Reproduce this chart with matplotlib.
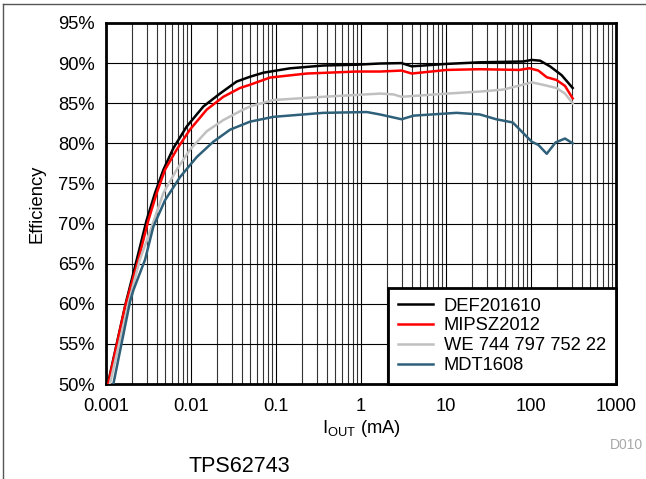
import matplotlib
matplotlib.use('Agg')
import matplotlib.pyplot as plt
from matplotlib.lines import Line2D
from matplotlib.ticker import FuncFormatter, FixedLocator, LogLocator, MultipleLocator, NullFormatter

plt.rcParams['font.family'] = ['Liberation Sans', 'DejaVu Sans']
plt.rcParams['mathtext.default'] = 'regular'

# load current (mA) vs efficiency (%)
def_i = [0.00105, 0.0017, 0.0023, 0.0030, 0.00377, 0.00473, 0.0062, 0.0089, 0.014, 0.0219, 0.0344,
         0.0494, 0.0708, 0.146, 0.36, 0.89, 1.67, 3.0, 3.95, 10.2, 25, 81, 102, 128, 167, 229, 309]
def_eff = [50.0, 60.0, 65.5, 70.4, 73.8, 76.7, 79.4, 82.1, 84.6, 86.2, 87.7,
           88.3, 88.8, 89.35, 89.7, 89.8, 89.95, 90.0, 89.6, 89.9, 90.1, 90.2, 90.4, 90.3, 89.6, 88.5, 86.9]

mip_i = [0.00106, 0.00167, 0.0024, 0.00315, 0.00395, 0.00494, 0.00677, 0.0097, 0.0153, 0.024, 0.0377,
         0.0494, 0.085, 0.23, 0.89, 1.67, 3.0, 3.95, 10.2, 25, 73, 96, 122, 153, 199, 251, 309]
mip_eff = [50.0, 59.6, 65.5, 70.4, 73.8, 76.7, 79.2, 81.7, 84.2, 85.8, 86.9,
           87.3, 88.2, 88.7, 88.95, 88.95, 89.07, 88.7, 89.15, 89.24, 89.15, 89.36, 89.07, 88.24, 87.9, 87.16, 85.6]

we_i = [0.00111, 0.00183, 0.0025, 0.00345, 0.00473, 0.00677, 0.0097, 0.0153, 0.024, 0.0377, 0.0494,
        0.093, 0.36, 1.67, 2.4, 3.0, 10.2, 25, 47, 73, 102, 138, 199, 251, 309]
we_eff = [50.0, 60.0, 65.5, 69.6, 73.8, 76.7, 79.2, 81.5, 82.9, 84.0, 84.6,
          85.4, 85.8, 86.2, 86.1, 85.8, 86.2, 86.45, 86.7, 87.2, 87.6, 87.3, 86.9, 86.2, 85.0]

mdt_i = [0.00122, 0.00192, 0.0021, 0.00288, 0.0036, 0.00494, 0.00743, 0.0117, 0.0183, 0.0288, 0.0494,
         0.093, 0.36, 1.17, 1.67, 3.0, 4.15, 13.3, 25, 39, 61, 102, 122, 153, 194, 251, 309]
mdt_eff = [50.0, 60.3, 61.7, 65.5, 69.6, 72.9, 75.8, 78.3, 80.2, 81.7, 82.7,
           83.3, 83.8, 83.9, 83.6, 83.0, 83.45, 83.8, 83.6, 83.0, 82.6, 80.2, 79.8, 78.7, 80.1, 80.6, 80.0]

x_ticks = [0.001, 0.01, 0.1, 1, 10, 100, 1000]
x_labels = ['0.001', '0.01', '0.1', '1', '10', '100', '1000']

series = [
    ('DEF201610', def_i, def_eff, 'black'),
    ('MIPSZ2012', mip_i, mip_eff, '#ff0000'),
    ('WE 744 797 752 22', we_i, we_eff, '#c0c0c0'),
    ('MDT1608', mdt_i, mdt_eff, '#2f6079'),
]

fig = plt.figure(figsize=(6.46, 4.79), dpi=100)
ax = fig.add_axes([0.1641, 0.1983, 0.7895, 0.7537])

for name, x, y, col in series:
    ax.plot(x, y, color=col, lw=1.8, label=name, zorder=3, solid_joinstyle='round')

ax.set_xscale('log')
ax.set_xlim(0.001, 1000)
ax.set_ylim(50, 95)
ax.yaxis.set_major_locator(MultipleLocator(5))
ax.yaxis.set_major_formatter(FuncFormatter(lambda v, p: '%d%%' % v))
ax.xaxis.set_major_locator(FixedLocator(x_ticks))
ax.set_xticklabels(x_labels)
ax.xaxis.set_minor_locator(LogLocator(base=10, subs=range(2, 10)))
ax.xaxis.set_minor_formatter(NullFormatter())

ax.grid(which='major', axis='both', color='black', lw=0.8)
ax.grid(which='minor', axis='x', color='#333333', lw=0.8)
ax.tick_params(which='both', length=0, labelsize=13.2)
ax.tick_params(axis='y', pad=8)
ax.tick_params(axis='x', pad=10)
for s in ax.spines.values():
    s.set_linewidth(2)

ax.set_xlabel('I$_{OUT}$ (mA)', fontsize=13.2, labelpad=2)
ax.set_ylabel('Efficiency', fontsize=13.2, labelpad=9)

leg = ax.legend(loc='lower right', bbox_to_anchor=(1, 0), borderaxespad=0, fancybox=False,
                edgecolor='black', fontsize=13.2, handlelength=1.9, handletextpad=0.6,
                labelspacing=0.15, borderpad=0.55, framealpha=1)
leg.get_frame().set_linewidth(2)
leg.set_zorder(5)

fig.text(0.9954, 0.071, 'D010', color='#a8a8a8', fontsize=10, ha='right', va='center')
fig.text(0.37, 0.027, 'TPS62743', fontsize=15.5, ha='center', va='center')

# thin frame around the figure (top and left edges)
fig.add_artist(Line2D([0.0046, 1.0], [0.9916, 0.9916], transform=fig.transFigure, color='#555555', lw=1))
fig.add_artist(Line2D([0.0046, 0.0046], [0.0, 0.9916], transform=fig.transFigure, color='#555555', lw=1))

fig.savefig('out.png', dpi=100)
